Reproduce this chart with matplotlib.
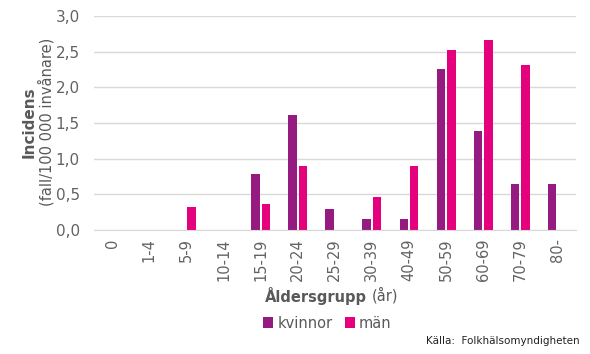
import matplotlib.pyplot as plt
import numpy as np

# age groups and incidence (cases per 100 000)
groups = ['0', '1-4', '5-9', '10-14', '15-19', '20-24', '25-29',
          '30-39', '40-49', '50-59', '60-69', '70-79', '80-']
kvinnor = [0, 0, 0, 0, 0.79, 1.61, 0.29, 0.16, 0.15, 2.26, 1.39, 0.64, 0.64]
man = [0, 0, 0.32, 0, 0.36, 0.90, 0, 0.47, 0.90, 2.52, 2.66, 2.31, 0]

c_k = '#951b81'
c_m = '#e5007e'
grey = '#595959'

fig = plt.figure(figsize=(5.9, 3.54), dpi=100)
ax = fig.add_axes([0.159, 0.350, 0.817, 0.605])

x = np.arange(len(groups))
w = 0.23
ax.bar(x - 0.14, kvinnor, w, color=c_k, label='kvinnor')
ax.bar(x + 0.14, man, w, color=c_m, label='män')

ax.set_xlim(-0.5, len(groups) - 0.5)
ax.set_ylim(0, 3.0)
ax.set_yticks(np.arange(0, 3.01, 0.5))
ax.set_yticklabels([f'{v:.1f}'.replace('.', ',') for v in np.arange(0, 3.01, 0.5)])
ax.set_xticks(x)
ax.set_xticklabels(groups, rotation=90)
ax.tick_params(length=0, colors='#636363', labelsize=10.5)
ax.tick_params(axis='y', pad=10, labelsize=11)
ax.tick_params(axis='x', pad=6)

ax.grid(axis='y', color='#d9d9d9', linewidth=1)
ax.set_axisbelow(True)
for s in ['top', 'right', 'left']:
    ax.spines[s].set_visible(False)
ax.spines['bottom'].set_color('#d9d9d9')

# y label in two lines
fig.text(0.050, 0.655, 'Incidens', rotation=90, ha='center', va='center',
         fontsize=11, fontweight='bold', color=grey)
fig.text(0.079, 0.655, '(fall/100 000 invånare)', rotation=90, ha='center',
         va='center', fontsize=10.5, color=grey)

# x label: bold part + normal part
fig.text(0.622, 0.165, 'Åldersgrupp', ha='right', va='center',
         fontsize=10.5, fontweight='bold', color=grey)
fig.text(0.630, 0.165, '(år)', ha='left', va='center', fontsize=10.5, color=grey)

fig.legend(loc='center', bbox_to_anchor=(0.555, 0.087), ncol=2, frameon=False,
           fontsize=10.5, handlelength=0.7, handleheight=0.7, handletextpad=0.3,
           columnspacing=0.8, labelcolor=grey)

fig.text(0.983, 0.037, 'Källa:  Folkhälsomyndigheten', ha='right', va='center',
         fontsize=7.5, color='#222222')

plt.savefig('out.png')
